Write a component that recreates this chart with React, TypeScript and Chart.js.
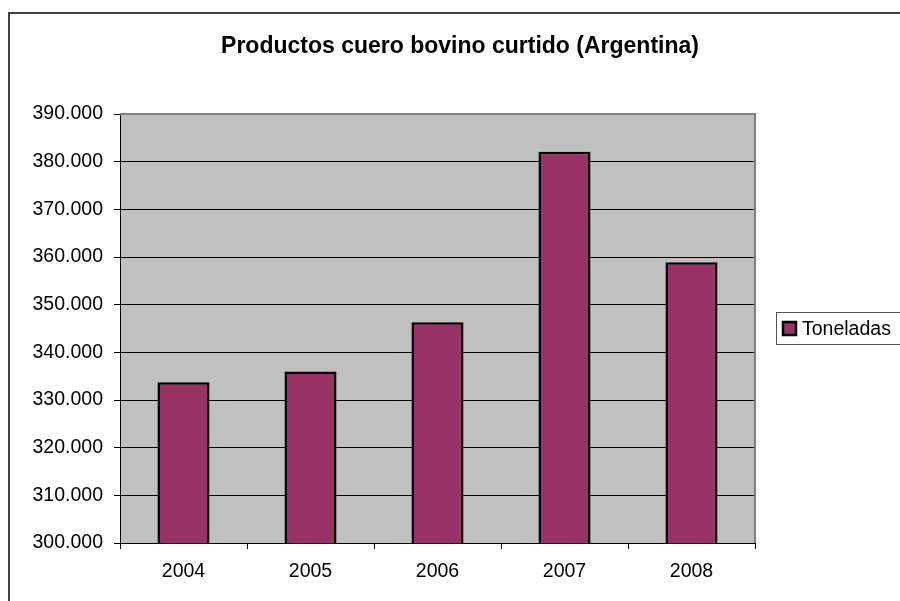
import React, { useEffect, useRef } from "react";
import { Chart, registerables } from "chart.js";

Chart.register(...registerables);

const TITLE = "Productos cuero bovino curtido (Argentina)";
const SERIES_NAME = "Toneladas";
const YEARS = ["2004", "2005", "2006", "2007", "2008"];
const TONELADAS = [333700, 336000, 346300, 382100, 358900];
const Y_MIN = 300000;
const Y_MAX = 390000;
const Y_STEP = 10000;

const BAR_COLOR = "#993366";
const FONT = "'Liberation Sans', Arial, sans-serif";

const fmt = (v: number) => String(Math.round(v)).replace(/\B(?=(\d{3})+(?!\d))/g, ".");

const decorPlugin = {
  id: "decor",
  beforeDraw(chart: any) {
    const { ctx, chartArea: a } = chart;
    ctx.save();
    ctx.fillStyle = "#ffffff";
    ctx.fillRect(0, 0, chart.width, chart.height);
    ctx.fillStyle = "#C0C0C0";
    ctx.fillRect(a.left, a.top, a.right - a.left, a.bottom - a.top);
    // outer frame
    ctx.strokeStyle = "#404040";
    ctx.lineWidth = 2;
    ctx.beginPath();
    ctx.moveTo(9, chart.height + 5);
    ctx.lineTo(9, 13);
    ctx.lineTo(chart.width + 5, 13);
    ctx.stroke();
    // title
    ctx.fillStyle = "#000";
    ctx.font = `bold 23px ${FONT}`;
    ctx.textAlign = "center";
    ctx.textBaseline = "alphabetic";
    ctx.fillText(TITLE, 460, 52.5);
    // legend
    ctx.strokeStyle = "#555";
    ctx.lineWidth = 1;
    ctx.strokeRect(776.5, 312.5, 200, 32);
    ctx.fillStyle = BAR_COLOR;
    ctx.fillRect(783, 322, 13, 13);
    ctx.strokeStyle = "#000";
    ctx.lineWidth = 2.5;
    ctx.strokeRect(783, 322, 13, 13);
    ctx.fillStyle = "#000";
    ctx.font = `19.5px ${FONT}`;
    ctx.textAlign = "left";
    ctx.textBaseline = "middle";
    ctx.fillText(SERIES_NAME, 802, 329.5);
    ctx.restore();
  },
  beforeDatasetsDraw(chart: any) {
    const { ctx, chartArea: a } = chart;
    ctx.save();
    ctx.strokeStyle = "#808080";
    ctx.lineWidth = 2;
    ctx.beginPath();
    ctx.moveTo(a.left, a.top);
    ctx.lineTo(a.right, a.top);
    ctx.lineTo(a.right, a.bottom);
    ctx.stroke();
    ctx.restore();
  },
};

export default function App() {
  const ref = useRef<HTMLCanvasElement>(null);
  useEffect(() => {
    if (!ref.current) return;
    const chart = new Chart(ref.current, {
      type: "bar",
      data: {
        labels: YEARS,
        datasets: [
          {
            label: SERIES_NAME,
            data: TONELADAS,
            backgroundColor: BAR_COLOR,
            borderColor: "#000",
            borderWidth: 2.5,
            barPercentage: 0.41,
            categoryPercentage: 1,
          },
        ],
      },
      options: {
        responsive: false,
        animation: false,
        devicePixelRatio: 1,
        layout: { padding: { left: 0, top: 114, right: 145, bottom: 0 } },
        plugins: {
          legend: { display: false },
          title: { display: false },
          tooltip: { enabled: false },
        },
        scales: {
          x: {
            grid: {
              display: true,
              drawOnChartArea: false,
              drawTicks: true,
              tickLength: 6,
              color: "#000",
              offset: true,
            },
            border: { display: true, color: "#000", width: 1 },
            ticks: {
              color: "#000",
              font: { family: FONT, size: 19.5 },
              padding: 11,
              maxRotation: 0,
            },
            afterFit: (s: any) => {
              s.height = 58;
            },
          },
          y: {
            min: Y_MIN,
            max: Y_MAX,
            grid: {
              color: "#000",
              lineWidth: 1,
              drawTicks: true,
              tickLength: 6,
              tickColor: "#000",
            },
            border: { display: true, color: "#000", width: 1 },
            ticks: {
              stepSize: Y_STEP,
              color: "#000",
              font: { family: FONT, size: 19.5 },
              padding: 11,
              callback: (v: any) => fmt(Number(v)),
            },
            afterFit: (s: any) => {
              s.width = 120;
            },
          },
        },
      },
      plugins: [decorPlugin],
    });
    return () => chart.destroy();
  }, []);
  return (
    <div style={{ position: "absolute", left: 0, top: 0, width: 900, height: 601 }}>
      <canvas ref={ref} width={900} height={601} style={{ display: "block" }} />
    </div>
  );
}
